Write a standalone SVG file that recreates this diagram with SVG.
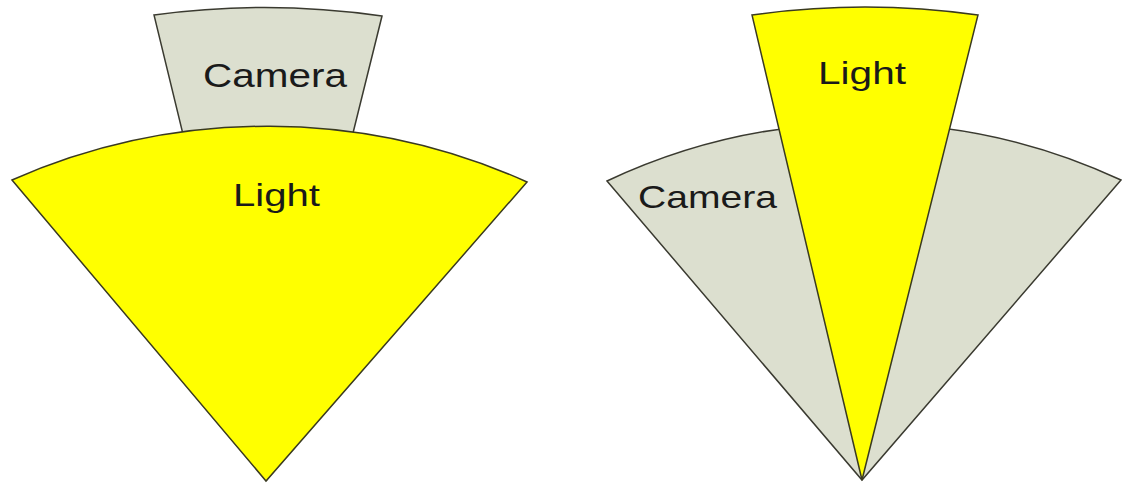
<svg xmlns="http://www.w3.org/2000/svg" width="1123" height="484" viewBox="0 0 1123 484">
<style>
.cam{fill:#dcdfcf;stroke:#3a3a30;stroke-width:1.5;stroke-linejoin:miter}
.lit{fill:#ffff00;stroke:#3a3a20;stroke-width:1.5;stroke-linejoin:miter}
.lbl{font-family:"Liberation Sans",Arial,sans-serif;fill:#1a1a1a}
</style>
<rect width="1123" height="484" fill="#ffffff"/>
<g id="left-camera">
<path class="cam" d="M154,15 A816,816 0 0 1 382,16 L267,480 Z"/>
</g>
<g id="left-light">
<path class="lit" d="M12,180 A633,633 0 0 1 527,182 L266,481 Z"/>
</g>
<g id="right-camera">
<path class="cam" d="M607,181 A605,605 0 0 1 1121,180 L862,480 Z"/>
</g>
<g id="right-light">
<path class="lit" d="M752,15 A802,802 0 0 1 978,15 L862,480 Z"/>
</g>
<g id="labels">
<text class="lbl" x="203" y="87" font-size="34" textLength="144" lengthAdjust="spacingAndGlyphs">Camera</text>
<text class="lbl" x="233" y="206" font-size="32" textLength="87" lengthAdjust="spacingAndGlyphs">Light</text>
<text class="lbl" x="818" y="84" font-size="31" textLength="88" lengthAdjust="spacingAndGlyphs">Light</text>
<text class="lbl" x="638" y="208" font-size="32" textLength="139" lengthAdjust="spacingAndGlyphs">Camera</text>
</g>
<g id="connectors"/>
</svg>
